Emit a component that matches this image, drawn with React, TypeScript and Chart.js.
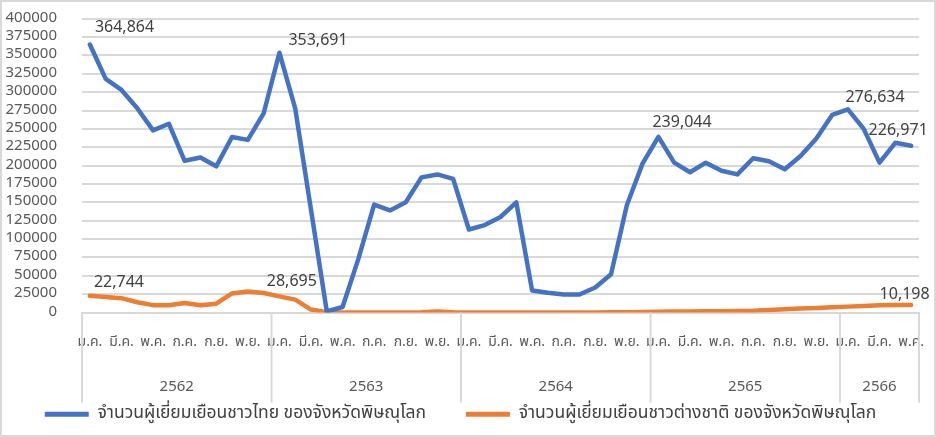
import React, { useEffect, useRef } from "react";
import { Chart, registerables } from "chart.js";

Chart.register(...registerables);

const years = ["2562", "2563", "2564", "2565", "2566"];
const monthsPerYear = [12, 12, 12, 12, 5];
const thMonths = ["ม.ค.", "ก.พ.", "มี.ค.", "เม.ย.", "พ.ค.", "มิ.ย.", "ก.ค.", "ส.ค.", "ก.ย.", "ต.ค.", "พ.ย.", "ธ.ค."];

const thaiVisitors = [
  364864, 318000, 303000, 278000, 248000, 257000, 206500, 211000, 199000, 239000, 235000, 271000,
  353691, 278000, 140000, 1500, 7500, 73000, 147000, 139000, 150000, 184000, 188000, 182000,
  113000, 119000, 130000, 150000, 30000, 27000, 24500, 24500, 34000, 52000, 146000, 203000,
  239044, 204000, 191000, 204000, 193000, 188000, 210000, 206000, 195000, 213000, 237000, 269000,
  276634, 250000, 204000, 231000, 226971,
];

const foreignVisitors = [
  22744, 21000, 19500, 14000, 10000, 10000, 13000, 10000, 12000, 26000, 28695, 26500,
  22000, 17500, 4000, 500, 0, 0, 0, 0, 0, 500, 1500, 500,
  0, 0, 0, 0, 0, 0, 0, 0, 0, 300, 500, 800,
  1000, 1200, 1400, 1600, 1800, 2000, 2500, 3500, 4500, 5500, 6000, 7000,
  8000, 9000, 9800, 10100, 10198,
];

const seriesNames = [
  "จำนวนผู้เยี่ยมเยือนชาวไทย ของจังหวัดพิษณุโลก",
  "จำนวนผู้เยี่ยมเยือนชาวต่างชาติ ของจังหวัดพิษณุโลก",
];

// which points carry a value label (dataset, index) and label nudges in px
const labelledPoints = [
  { ds: 0, i: 0, dx: 5, dy: -15.5 },
  { ds: 0, i: 12, dx: 9, dy: -11 },
  { ds: 0, i: 36, dx: -6, dy: -13.5 },
  { ds: 0, i: 48, dx: -2.5, dy: -11 },
  { ds: 0, i: 52, dx: -42.5, dy: -13.7 },
  { ds: 1, i: 0, dx: 4, dy: -12 },
  { ds: 1, i: 10, dx: 19, dy: -8.5 },
  { ds: 1, i: 52, dx: -31.5, dy: -9 },
];

const categories: string[] = [];
years.forEach((y, yi) => {
  for (let m = 0; m < monthsPerYear[yi]; m++) categories.push(thMonths[m]);
});

const FONT = "'Noto Sans Thai', 'Leelawadee UI', Tahoma, 'Noto Sans', sans-serif";
const TEXT = "#595959";

const groupPlugin = {
  id: "yearGroups",
  afterDraw(chart: any) {
    const x = chart.scales.x;
    const ctx = chart.ctx;
    const area = chart.chartArea;
    const step = x.getPixelForValue(1) - x.getPixelForValue(0);
    ctx.save();
    ctx.strokeStyle = "#d9d9d9";
    ctx.lineWidth = 2;
    let start = 0;
    const bounds: number[] = [];
    years.forEach((_, yi) => {
      bounds.push(x.getPixelForValue(start) - step / 2);
      start += monthsPerYear[yi];
    });
    bounds.push(x.getPixelForValue(start - 1) + step / 2);
    bounds.forEach((bx) => {
      ctx.beginPath();
      ctx.moveTo(bx, area.bottom);
      ctx.lineTo(bx, area.bottom + 90);
      ctx.stroke();
    });
    ctx.fillStyle = TEXT;
    ctx.font = `15px ${FONT}`;
    ctx.textAlign = "center";
    ctx.textBaseline = "middle";
    years.forEach((y, yi) => {
      ctx.fillText(y, (bounds[yi] + bounds[yi + 1]) / 2, area.bottom + 75);
    });
    ctx.restore();
  },
};

const valueLabelPlugin = {
  id: "valueLabels",
  afterDatasetsDraw(chart: any) {
    const ctx = chart.ctx;
    ctx.save();
    ctx.fillStyle = "#404040";
    ctx.font = `16px ${FONT}`;
    ctx.textAlign = "left";
    ctx.textBaseline = "middle";
    labelledPoints.forEach((p) => {
      const el = chart.getDatasetMeta(p.ds).data[p.i];
      const v = chart.data.datasets[p.ds].data[p.i] as number;
      ctx.fillText(v.toLocaleString("en-US"), el.x + p.dx, el.y + p.dy);
    });
    ctx.restore();
  },
};

export default function App() {
  const ref = useRef<HTMLCanvasElement>(null);
  useEffect(() => {
    document.body.style.margin = "0";
    const chart = new Chart(ref.current!, {
      type: "line",
      data: {
        labels: categories,
        datasets: [
          {
            label: seriesNames[0],
            data: thaiVisitors,
            borderColor: "#4472C4",
            backgroundColor: "#4472C4",
            borderWidth: 4.5,
            pointRadius: 0,
            borderJoinStyle: "round",
            borderCapStyle: "round",
            tension: 0,
          },
          {
            label: seriesNames[1],
            data: foreignVisitors,
            borderColor: "#ED7D31",
            backgroundColor: "#ED7D31",
            borderWidth: 4.5,
            pointRadius: 0,
            borderJoinStyle: "round",
            borderCapStyle: "round",
            tension: 0,
          },
        ],
      },
      options: {
        animation: false,
        responsive: false,
        maintainAspectRatio: false,
        layout: { padding: { top: 16.7, right: 15, left: 0, bottom: 2 } },
        plugins: {
          tooltip: { enabled: false },
          legend: {
            position: "bottom",
            labels: {
              boxWidth: 44,
              boxHeight: 5,
              useBorderRadius: true,
              borderRadius: 2.5,
              padding: 40,
              color: "#404040",
              font: { family: FONT, size: 17.5 },
              generateLabels(chart: any) {
                return chart.data.datasets.map((d: any, i: number) => ({
                  text: d.label,
                  fillStyle: d.borderColor,
                  strokeStyle: d.borderColor,
                  lineWidth: 0,
                  datasetIndex: i,
                  fontColor: "#404040",
                }));
              },
            },
          },
        },
        scales: {
          x: {
            offset: true,
            grid: { display: false, drawTicks: false },
            border: { display: true, color: "#d9d9d9", width: 2 },
            ticks: {
              autoSkip: false,
              maxRotation: 0,
              minRotation: 0,
              padding: 22,
              color: TEXT,
              font: { family: FONT, size: 14 },
              callback: (_v: any, i: number) => (i % 2 === 0 ? categories[i] : ""),
            },
            afterFit(s: any) {
              s.height = 53;
              s.paddingLeft = 0;
              s.paddingRight = 0;
            },
          },
          y: {
            min: 0,
            max: 400000,
            grid: { color: "#d9d9d9", lineWidth: 2, drawTicks: false },
            border: { display: false },
            ticks: {
              stepSize: 25000,
              autoSkip: false,
              padding: 25,
              color: TEXT,
              font: { family: FONT, size: 15 },
              callback: (v: any) => String(v),
            },
            afterFit(s: any) {
              s.width = 80;
              s.paddingTop = 0;
              s.paddingBottom = 0;
            },
          },
        },
      },
      plugins: [groupPlugin, valueLabelPlugin],
    });
    return () => chart.destroy();
  }, []);
  return (
    <div
      style={{
        width: 936,
        height: 437,
        boxSizing: "border-box",
        border: "2px solid #d9d9d9",
        background: "#fff",
      }}
    >
      <canvas ref={ref} width={932} height={433} style={{ display: "block" }} />
    </div>
  );
}
